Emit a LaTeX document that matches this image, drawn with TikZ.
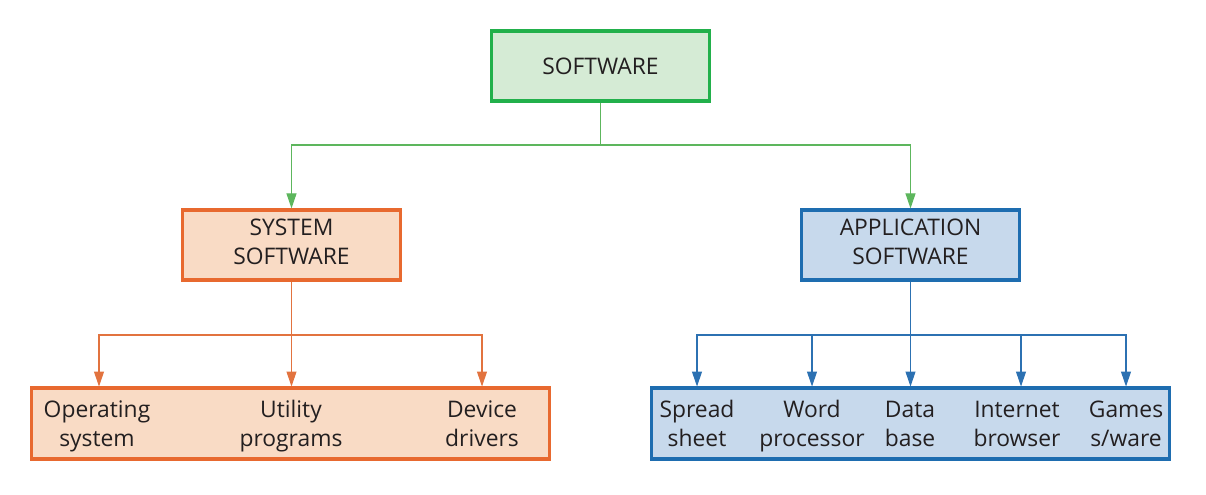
\documentclass[tikz,border=0pt]{standalone}
\usepackage{fontspec}
\setmainfont{Open Sans}
\usetikzlibrary{arrows.meta}
\definecolor{gbord}{HTML}{22B04B}
\definecolor{gfill}{HTML}{D5EBD5}
\definecolor{gline}{HTML}{5DB65D}
\definecolor{obord}{HTML}{E8692F}
\definecolor{ofill}{HTML}{F9DBC5}
\definecolor{oline}{HTML}{E2733F}
\definecolor{bbord}{HTML}{1E6DB0}
\definecolor{bfill}{HTML}{C7D9EC}
\definecolor{bline}{HTML}{2C71B2}
\definecolor{txt}{HTML}{231F20}
\newcommand\topstrut{\rule[-0.3\baselineskip]{0pt}{0.95\baselineskip}}
\tikzset{
  box/.style={draw, line width=1.8pt, minimum width=4.36cm, minimum height=1.4cm, inner sep=0pt, text=txt, font=\fontsize{13}{16.5}\selectfont, align=center},
  wide/.style={draw, line width=1.8pt, minimum width=10.36cm, minimum height=1.42cm, inner sep=0pt},
  lbl/.style={text=txt, font=\fontsize{13}{16.5}\selectfont, align=center, inner sep=0pt},
  conn/.style={line width=0.6pt, -{Triangle[width=0.2cm,length=0.3cm]}},
  seg/.style={line width=0.6pt}
}
\begin{document}
\begin{tikzpicture}[x=0.02cm,y=-0.02cm]
\useasboundingbox (0,0) rectangle (1206,494);
% boxes
\node[box, draw=gbord, fill=gfill] (sw) at (600.5,66) {SOFTWARE};
\node[box, draw=obord, fill=ofill] (sys) at (291.5,245) {\topstrut SYSTEM\\\strut SOFTWARE};
\node[box, draw=bbord, fill=bfill] (app) at (910.5,245) {\topstrut APPLICATION\\\strut SOFTWARE};
\node[wide, draw=obord, fill=ofill] (sysb) at (290.5,423.5) {};
\node[wide, draw=bbord, fill=bfill] (appb) at (910.5,423.5) {};
% labels
\node[lbl] (os) at (97,426.5) {\strut Operating\\\strut system};
\node[lbl] (up) at (291,426.5) {\strut Utility\\\strut programs};
\node[lbl] (dd) at (482,426.5) {\strut Device\\\strut drivers};
\node[lbl] (ss) at (697,426.5) {\strut Spread\\\strut sheet};
\node[lbl] (wp) at (812,426.5) {\strut Word\\\strut processor};
\node[lbl] (db) at (910,426.5) {\strut Data\\\strut base};
\node[lbl] (ib) at (1017,426.5) {\strut Internet\\\strut browser};
\node[lbl] (gs) at (1126,426.5) {\strut Games\\\strut s/ware};
% coordinates
\coordinate (gj) at (600.5,145);
\coordinate (oj) at (291.5,335);
\coordinate (bj) at (910.5,335);
% green connectors
\draw[seg, gline] (sw.south) -- (gj);
\draw[conn, gline] (gj) -| (sys.north);
\draw[conn, gline] (gj) -| (app.north);
% orange connectors
\draw[seg, oline] (sys.south) -- (oj);
\draw[conn, oline] (oj) -| (99,386.5) coordinate (a1);
\draw[conn, oline] (oj) -- (291.5,386.5) coordinate (a2);
\draw[conn, oline] (oj) -| (482,386.5) coordinate (a3);
% blue connectors
\draw[seg, bline] (app.south) -- (bj);
\draw[conn, bline] (bj) -| (697,386.5) coordinate (b1);
\draw[conn, bline] (bj) -| (812,386.5) coordinate (b2);
\draw[conn, bline] (bj) -- (910.5,386.5) coordinate (b3);
\draw[conn, bline] (bj) -| (1021,386.5) coordinate (b4);
\draw[conn, bline] (bj) -| (1126,386.5) coordinate (b5);
\end{tikzpicture}
\end{document}
